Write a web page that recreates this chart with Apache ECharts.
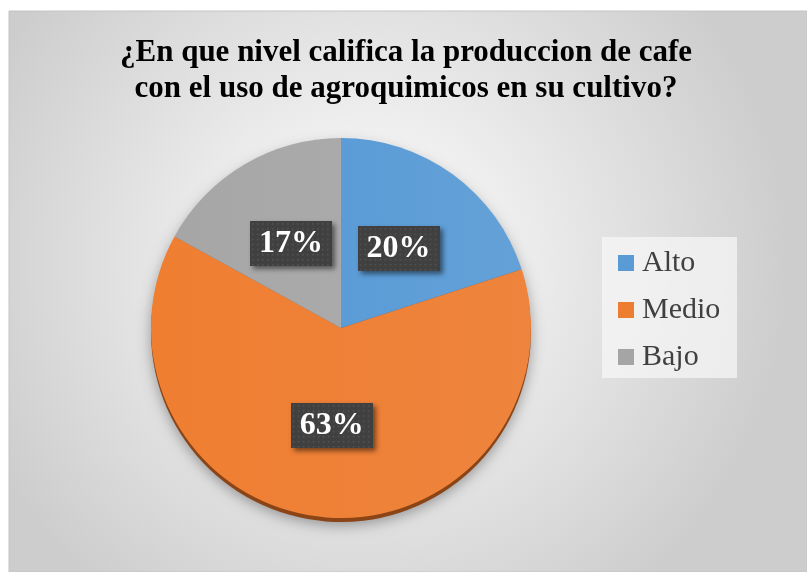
<!DOCTYPE html>
<html>
<head>
<meta charset="utf-8">
<script src="https://cdn.jsdelivr.net/npm/echarts@6/dist/echarts.min.js"></script>
<style>
html,body{margin:0;padding:0;background:#fff;}
#c{width:807px;height:572px;}
</style>
</head>
<body>
<div id="c"></div>
<script>
var categories = ['Alto', 'Medio', 'Bajo'];
var values = [20, 63, 17];
var colors = ['#5B9BD5', '#ED7D31', '#A5A5A5'];
var darkColors = ['#2f5f8c', '#8a4416', '#6b6b6b'];
var titleLines = ['¿En que nivel califica la produccion de cafe', 'con el uso de agroquimicos en su cultivo?'];

// dotted label background pattern
var pc = document.createElement('canvas');
pc.width = 82; pc.height = 44;
var pctx = pc.getContext('2d');
pctx.fillStyle = '#404040';
pctx.fillRect(0, 0, 82, 44);
pctx.fillStyle = '#565656';
for (var yy = 2; yy < 44; yy += 5) {
  for (var xx = 2; xx < 82; xx += 5) {
    pctx.fillRect(xx, yy, 1.5, 1.5);
  }
}

var chart = echarts.init(document.getElementById('c'), null, {renderer: 'canvas'});

function shade(c) {
  return new echarts.graphic.LinearGradient(0, 0, 1, 0, [
    {offset: 0, color: echarts.color.lift(c, -0.01)},
    {offset: 1, color: echarts.color.lift(c, 0.06)}
  ]);
}

var mainData = categories.map(function (n, i) {
  return {name: n, value: values[i], itemStyle: {color: shade(colors[i])}};
});
var depthData = categories.map(function (n, i) {
  return {name: n, value: values[i], itemStyle: {color: darkColors[i]}};
});
var legendData = categories.map(function (n, i) {
  return {name: n, itemStyle: {color: colors[i]}};
});

chart.setOption({
  backgroundColor: '#ffffff',
  animation: false,
  graphic: [{
    type: 'rect',
    shape: {x: 9, y: 11, width: 798, height: 561},
    style: {
      fill: new echarts.graphic.RadialGradient(0.45, 0.45, 0.75, [
        {offset: 0, color: '#ffffff'},
        {offset: 1, color: '#cdcdcd'}
      ]),
      stroke: '#c4c4c4',
      lineWidth: 1
    },
    z: -10
  }, {
    type: 'rect',
    shape: {x: 602, y: 237, width: 135, height: 141},
    style: {fill: 'rgba(248,248,248,0.7)'},
    z: 0
  }],
  title: {
    text: titleLines.join('\n'),
    left: 406,
    textAlign: 'center',
    top: 35,
    padding: 0,
    textStyle: {
      fontFamily: 'Liberation Serif',
      fontWeight: 'bold',
      fontSize: 31,
      lineHeight: 36,
      color: '#000000'
    }
  },
  legend: {
    orient: 'vertical',
    left: 618,
    top: 248,
    padding: 0,
    data: legendData,
    icon: 'rect',
    itemWidth: 16,
    itemHeight: 16,
    itemGap: 17,
    textStyle: {
      fontFamily: 'Liberation Serif',
      fontSize: 30,
      lineHeight: 30,
      color: '#404040',
      padding: [0, 0, 0, 3]
    }
  },
  series: [{
    type: 'pie',
    name: 'depth',
    center: [341, 332],
    radius: [0, 190],
    startAngle: 90,
    clockwise: true,
    silent: true,
    legendHoverLink: false,
    label: {show: false},
    labelLine: {show: false},
    itemStyle: {
      borderWidth: 0,
      shadowBlur: 14,
      shadowColor: 'rgba(0,0,0,0.35)',
      shadowOffsetY: 3
    },
    data: depthData,
    z: 1
  }, {
    type: 'pie',
    name: 'main',
    center: [341, 328],
    radius: [0, 190],
    startAngle: 90,
    clockwise: true,
    silent: true,
    itemStyle: {borderWidth: 0},
    labelLine: {show: false},
    label: {
      show: true,
      position: 'inside',
      formatter: '{d}%',
      fontFamily: 'Liberation Serif',
      fontWeight: 'bold',
      fontSize: 32,
      color: '#ffffff',
      backgroundColor: {image: pc},
      padding: [8, 9, 5, 9],
      shadowColor: 'rgba(0,0,0,0.5)',
      shadowBlur: 5,
      shadowOffsetX: 3,
      shadowOffsetY: 3
    },
    data: mainData,
    z: 2
  }]
});
</script>
</body>
</html>
